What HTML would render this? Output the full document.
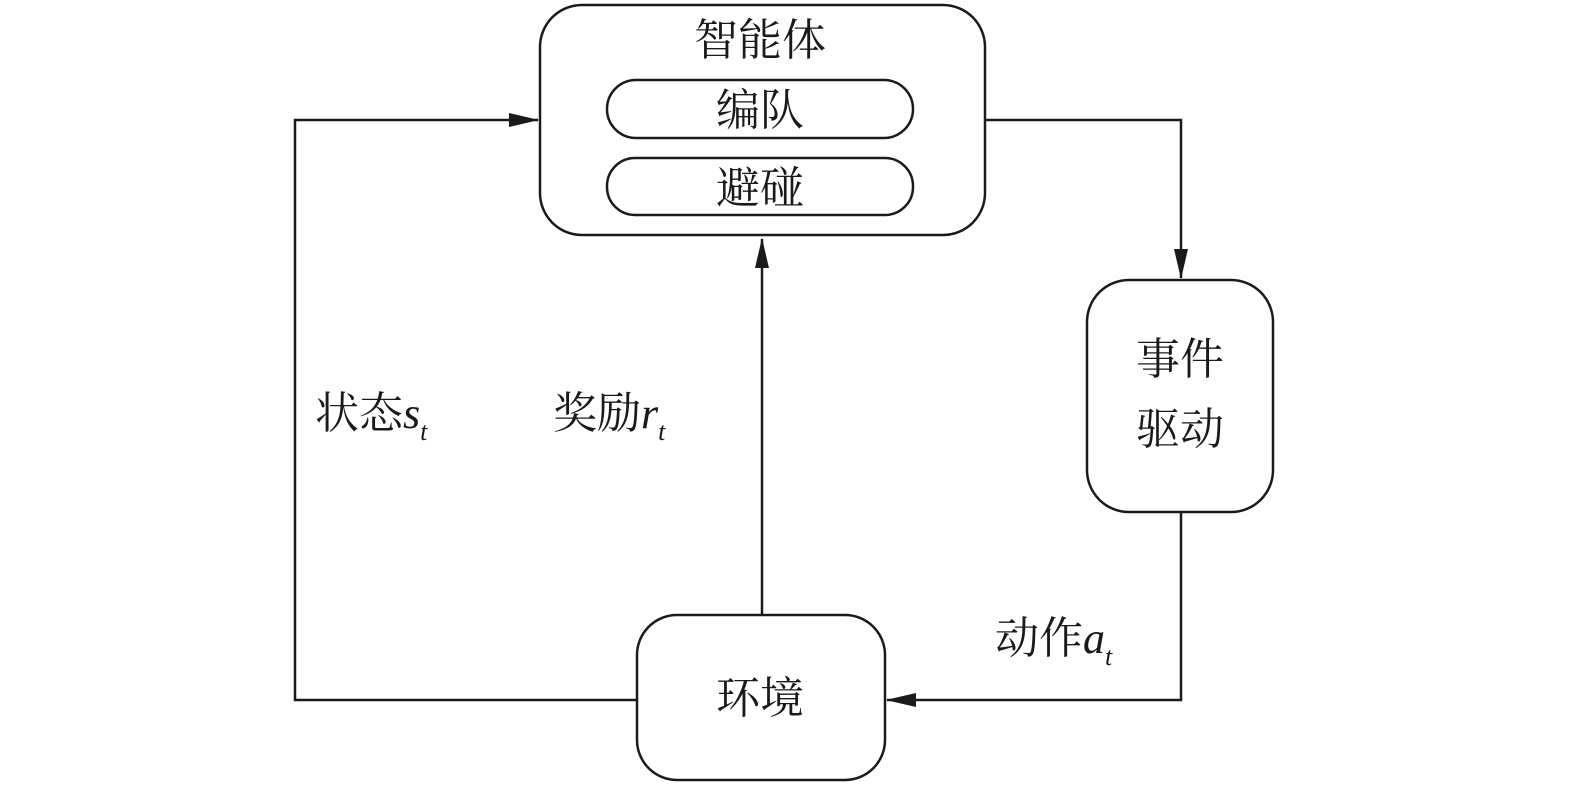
<!DOCTYPE html>
<html><head><meta charset="utf-8"><style>
html,body{margin:0;padding:0;background:#fff;width:1575px;height:789px;overflow:hidden}
svg text{font-family:"Liberation Serif","Noto Serif CJK SC","Noto Sans CJK SC",serif;fill:#1a1a1a}
</style></head><body>
<svg width="1575" height="789" viewBox="0 0 1575 789" xmlns="http://www.w3.org/2000/svg">
<defs><marker id="a" markerWidth="12" markerHeight="10" refX="11" refY="5" orient="auto" markerUnits="userSpaceOnUse"><path d="M0,0 L12,5 L0,10 Z" fill="#1a1a1a"/></marker>
<marker id="b" viewBox="0 0 30 14" markerWidth="30" markerHeight="14" refX="29" refY="7" orient="auto" markerUnits="userSpaceOnUse"><path d="M0,0 L30,7 L0,14 Z" fill="#1a1a1a"/></marker></defs>
<g fill="none" stroke="#1a1a1a" stroke-width="2.5">
<rect x="540" y="5" width="445" height="230" rx="42"/>
<rect x="607" y="80" width="306" height="58" rx="29"/>
<rect x="607" y="158" width="306" height="57" rx="28"/>
<rect x="1087" y="280" width="186" height="232" rx="42"/>
<rect x="637" y="615" width="248" height="165" rx="40"/>
<polyline points="637,700 295,700 295,120 538,120" marker-end="url(#b)"/>
<polyline points="762,615 762,239" marker-end="url(#b)"/>
<polyline points="985,120 1181,120 1181,278" marker-end="url(#b)"/>
<polyline points="1181,512 1181,700 887,700" marker-end="url(#b)"/>
</g>
<g font-size="44" text-anchor="middle">
<text x="760" y="55">智能体</text>
<text x="760" y="125">编队</text>
<text x="760" y="203">避碰</text>
<text x="1180" y="374">事件</text>
<text x="1180" y="444">驱动</text>
<text x="760" y="713">环境</text>
</g>
<g font-size="44">
<text x="315" y="428">状态<tspan font-style="italic">s</tspan><tspan font-style="italic" font-size="26" dy="12">t</tspan></text>
<text x="553" y="428">奖励<tspan font-style="italic">r</tspan><tspan font-style="italic" font-size="26" dy="12">t</tspan></text>
<text x="995" y="653">动作<tspan font-style="italic">a</tspan><tspan font-style="italic" font-size="26" dy="12">t</tspan></text>
</g>
</svg>
</body></html>
